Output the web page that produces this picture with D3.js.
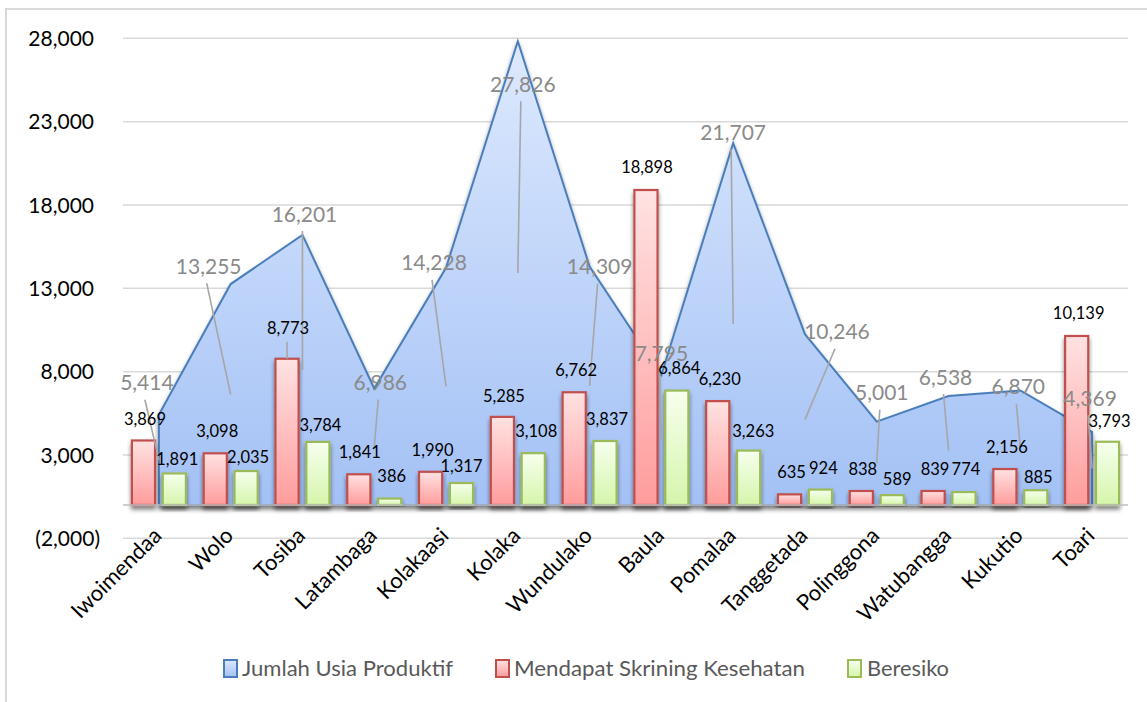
<!DOCTYPE html>
<html><head><meta charset="utf-8">
<script src="https://cdn.jsdelivr.net/npm/d3@7"></script>
<style>
body{margin:0;background:#fff;}
svg{display:block;font-family:Lato,"Open Sans",sans-serif;}
</style>
</head><body>
<svg id="chart" width="1147" height="702"></svg>
<script>
// ---------------- data ----------------
const categories = ["Iwoimendaa","Wolo","Tosiba","Latambaga","Kolakaasi","Kolaka","Wundulako","Baula","Pomalaa","Tanggetada","Polinggona","Watubangga","Kukutio","Toari"];
const usiaProduktif = [5414,13255,16201,6986,14228,27826,14309,7795,21707,10246,5001,6538,6870,4369];
const skrining = [3869,3098,8773,1841,1990,5285,6762,18898,6230,635,838,839,2156,10139];
const beresiko = [1891,2035,3784,386,1317,3108,3837,6864,3263,924,589,774,885,3793];
const yTickValues = [-2000,3000,8000,13000,18000,23000,28000];
const seriesNames = ["Jumlah Usia Produktif","Mendapat Skrining Kesehatan","Beresiko"];

// ---------------- label layout (pixel offsets, moved labels) ----------------
const areaLabelOffset = [[-12,-32],[-22,-18],[2,-21],[6,-6],[-12,-5],[5,43],[10,0],[0,-22],[0,-11],[32,-2.5],[5,-29],[-3,-19],[-2,-4],[-2,-34]];
const redLabelOffset = [[1.5,-21.5],[2,-22],[1,-31],[1,-22],[2,-22],[1.5,-21],[2,-22],[1,-23],[2,-22],[2,-22],[1.5,-22],[2,-22],[2,-22],[2,-23]];
const redLeader = [false,false,true,false,false,false,false,false,false,false,false,false,false,false];
const greenLabelOffset = [[3,-14],[2,-14],[2.5,-17],[2,-22],[0,-17],[3,-22],[2,-22],[2.5,-22.6],[4.7,-19.6],[3,-21.6],[5,-16],[2,-23],[2.5,-13],[2,-21]];

// ---------------- setup ----------------
const svg = d3.select("#chart");
const plot = {left:123, right:1128};
const x = d3.scaleBand().domain(categories).range([plot.left, plot.right]).padding(0);
const y = d3.scaleLinear().domain([-2000, 28000]).range([538.3, 38.3]);
const sub = d3.scaleBand().domain([0,1]).range([-27,27]).paddingInner(0.25);
const cx = c => x(c) + x.bandwidth()/2;
const fmt = d3.format(",");

const defs = svg.append("defs");
function grad(id, top, bottom){
  const g = defs.append("linearGradient").attr("id", id).attr("x1",0).attr("y1",0).attr("x2",0).attr("y2",1);
  g.append("stop").attr("offset","0%").attr("stop-color",top);
  g.append("stop").attr("offset","100%").attr("stop-color",bottom);
}
grad("gBlue","#dde9fe","#a3c1f5");
grad("gRed","#ffe2e2","#ff9c9c");
grad("gGreen","#f6ffee","#d6f5ab");
const f = defs.append("filter").attr("id","shadow").attr("x","-20%").attr("y","-20%").attr("width","140%").attr("height","140%");
f.append("feDropShadow").attr("dx",0).attr("dy",3.5).attr("stdDeviation",2).attr("flood-color","#000").attr("flood-opacity",0.5);

// frame
svg.append("rect").attr("x",6).attr("y",9).attr("width",1300).attr("height",900)
  .attr("fill","none").attr("stroke","#d9d9d9").attr("stroke-width",2);

// gridlines
svg.append("g").selectAll("line").data(yTickValues).join("line")
  .attr("x1",plot.left).attr("x2",plot.right)
  .attr("y1",d=>y(d)).attr("y2",d=>y(d))
  .attr("stroke","#d9d9d9").attr("stroke-width",1.5);

// y tick labels
svg.append("g").selectAll("text").data(yTickValues).join("text")
  .attr("x",d=> d<0 ? 100 : 94)
  .attr("y",d=>y(d)).attr("dy","0.36em")
  .attr("text-anchor","end").attr("font-size",21).attr("fill","#000")
  .text(d=> d<0 ? "(" + fmt(-d) + ")" : fmt(d));

// area series
const areaGen = d3.area().x((d,i)=>cx(categories[i])).y0(y(0)).y1(d=>y(d));
svg.append("path").datum(usiaProduktif)
  .attr("d", d=>areaGen(d) + "Z")
  .attr("fill","url(#gBlue)").attr("stroke","#4a7ebb").attr("stroke-width",2)
  .attr("stroke-linejoin","miter")
  .attr("filter","url(#shadow)");

// bars
const barSeries = [
  {vals: skrining, k:0, fill:"url(#gRed)", stroke:"#c0504d"},
  {vals: beresiko, k:1, fill:"url(#gGreen)", stroke:"#9bbb59"}
];
const gBars = svg.append("g");
barSeries.forEach(s=>{
  gBars.append("g").selectAll("rect").data(s.vals).join("rect")
    .attr("x",(d,i)=>cx(categories[i]) + sub(s.k))
    .attr("width",sub.bandwidth())
    .attr("y",d=>y(d)).attr("height",d=>y(0)-y(d))
    .attr("fill",s.fill).attr("stroke",s.stroke).attr("stroke-width",2.2)
    .attr("filter","url(#shadow)");
});

// category axis line
svg.append("line").attr("x1",plot.left).attr("x2",plot.right)
  .attr("y1",y(0)).attr("y2",y(0)).attr("stroke","#bfbfbf").attr("stroke-width",1.5);

// area leader lines + labels
const gLead = svg.append("g").attr("stroke","#a6a6a6").attr("stroke-width",1.6);
const gLab = svg.append("g");
usiaProduktif.forEach((v,i)=>{
  const px = cx(categories[i]), py = y(v);
  const lx = px + areaLabelOffset[i][0], ly = py + areaLabelOffset[i][1];
  gLead.append("line").attr("x1",lx - 2).attr("y1",ly + 17).attr("x2",px).attr("y2",y(v/2));
  gLab.append("text").attr("x",lx).attr("y",ly).attr("dy","0.36em")
    .attr("text-anchor","middle").attr("font-size",21).attr("fill","#8a8a8a").text(fmt(v));
});

// bar labels
function barLabels(vals, k, offs, leaders){
  vals.forEach((v,i)=>{
    const bx = cx(categories[i]) + sub(k) + sub.bandwidth()/2, by = y(v);
    const lx = bx + offs[i][0], ly = by + offs[i][1];
    if (leaders && leaders[i]) {
      gLead.append("line").attr("x1",bx).attr("y1",ly + 14).attr("x2",bx).attr("y2",by);
    }
    gLab.append("text").attr("x",lx).attr("y",ly).attr("dy","0.36em")
      .attr("text-anchor","middle").attr("font-size",16.5).attr("fill","#000").text(fmt(v));
  });
}
barLabels(skrining, 0, redLabelOffset, redLeader);
barLabels(beresiko, 1, greenLabelOffset, null);

// x axis labels
svg.append("g").selectAll("text").data(categories).join("text")
  .attr("transform",d=>`translate(${cx(d)+4},537) rotate(-45)`)
  .attr("text-anchor","end").attr("font-size",22).attr("fill","#000")
  .text(d=>d);

// legend
const legendItems = [
  {name: seriesNames[0], fill:"url(#gBlue)", stroke:"#4a7ebb", sx:223, tx:242, tw:211},
  {name: seriesNames[1], fill:"url(#gRed)", stroke:"#c0504d", sx:495, tx:514, tw:291},
  {name: seriesNames[2], fill:"url(#gGreen)", stroke:"#9bbb59", sx:847, tx:867, tw:82}
];
const gLeg = svg.append("g");
legendItems.forEach(it=>{
  gLeg.append("rect").attr("x",it.sx+1).attr("y",660).attr("width",13).attr("height",17)
    .attr("fill",it.fill).attr("stroke",it.stroke).attr("stroke-width",2);
  gLeg.append("text").attr("x",it.tx).attr("y",668).attr("dy","0.36em")
    .attr("font-size",21).attr("fill","#595959")
    .attr("textLength",it.tw).attr("lengthAdjust","spacingAndGlyphs")
    .text(it.name);
});
</script>
</body></html>
